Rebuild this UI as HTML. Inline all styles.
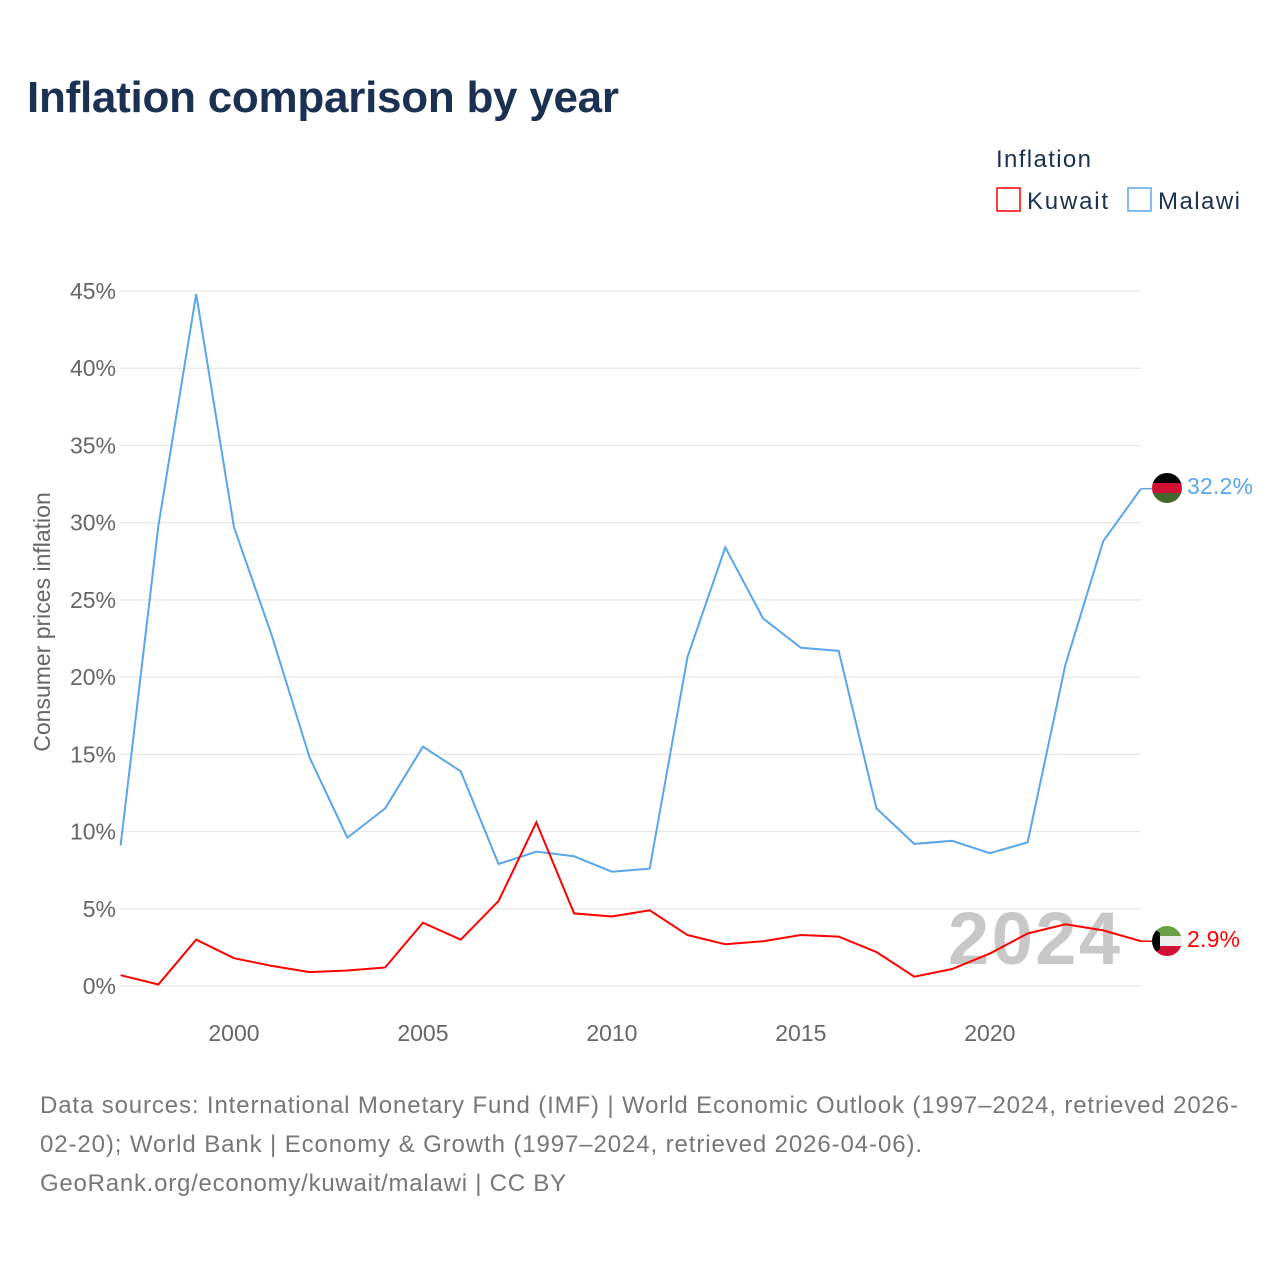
<!DOCTYPE html>
<html><head><meta charset="utf-8"><style>
body{margin:0;background:#fff;font-family:"Liberation Sans",sans-serif;}
svg text{font-family:"Liberation Sans",sans-serif;}
</style></head><body>
<svg width="1280" height="1280">
<text x="27" y="112" font-size="44" font-weight="bold" fill="#1a3152" textLength="592">Inflation comparison by year</text>
<text x="996" y="167" font-size="24" fill="#1a3152" textLength="95">Inflation</text>
<g><rect x="997" y="188" width="23" height="23" fill="none" stroke="#ff0000" stroke-width="1.5"/><text x="1027" y="209" font-size="24" fill="#1a3152" textLength="81">Kuwait</text></g>
<g><rect x="1128" y="188" width="23" height="23" fill="none" stroke="#5aa6ea" stroke-width="1.5"/><text x="1158" y="209" font-size="24" fill="#1a3152" textLength="82">Malawi</text></g>
<g id="grid"></g><g id="yt"></g><g id="xt"></g>
<text x="948" y="964" font-size="74" font-weight="bold" fill="#c8c8c8" textLength="172">2024</text>
<text transform="translate(50,622) rotate(-90)" font-size="23" fill="#666" text-anchor="middle">Consumer prices inflation</text>
<g id="lines"></g>
<g><clipPath id="c1"><circle cx="1167" cy="488" r="15"/></clipPath><g clip-path="url(#c1)"><rect x="1150" y="473" width="34" height="10" fill="#000"/><rect x="1150" y="483" width="34" height="10" fill="#d21034"/><rect x="1150" y="493" width="34" height="10" fill="#44692c"/></g></g>
<g><clipPath id="c2"><circle cx="1167" cy="941" r="15"/></clipPath><g clip-path="url(#c2)"><rect x="1150" y="926" width="34" height="10" fill="#6a9e45"/><rect x="1150" y="936" width="34" height="10" fill="#eee"/><rect x="1150" y="946" width="34" height="10" fill="#d21034"/><polygon points="1150,926 1160,933 1160,949 1150,956" fill="#000"/></g></g>
<text x="1187" y="494" font-size="23" fill="#5aa6ea" textLength="66">32.2%</text>
<text x="1187" y="947" font-size="23" fill="#ff0000" textLength="53">2.9%</text>
<g font-size="24" fill="#777">
<text x="40" y="1113" textLength="1198">Data sources: International Monetary Fund (IMF) | World Economic Outlook (1997–2024, retrieved 2026-</text>
<text x="40" y="1152" textLength="882">02-20); World Bank | Economy &amp; Growth (1997–2024, retrieved 2026-04-06).</text>
<text x="40" y="1191" textLength="526">GeoRank.org/economy/kuwait/malawi | CC BY</text>
</g>
</svg>
<script>
const years=[1997,1998,1999,2000,2001,2002,2003,2004,2005,2006,2007,2008,2009,2010,2011,2012,2013,2014,2015,2016,2017,2018,2019,2020,2021,2022,2023,2024];
const malawi=[9.1,29.8,44.8,29.7,22.7,14.8,9.6,11.5,15.5,13.9,7.9,8.7,8.4,7.4,7.6,21.3,28.4,23.8,21.9,21.7,11.5,9.2,9.4,8.6,9.3,20.8,28.8,32.2];
const kuwait=[0.7,0.1,3.0,1.8,1.3,0.9,1.0,1.2,4.1,3.0,5.5,10.6,4.7,4.5,4.9,3.3,2.7,2.9,3.3,3.2,2.2,0.6,1.1,2.1,3.4,4.0,3.6,2.9];
const yTicks=[0,5,10,15,20,25,30,35,40,45];
const xTicks=[2000,2005,2010,2015,2020];
const X=y=>120.6+(y-1997)*(1141-120.6)/27;
const Y=v=>986-v*(986-291)/45;
const NS="http://www.w3.org/2000/svg";
function mk(t,a,p){const e=document.createElementNS(NS,t);for(const k in a)e.setAttribute(k,a[k]);p.appendChild(e);return e;}
const g=document.getElementById('grid'),yt=document.getElementById('yt'),xt=document.getElementById('xt'),ln=document.getElementById('lines');
yTicks.forEach(v=>{
 const l=mk('line',{x1:120,x2:1141,y1:Y(v),y2:Y(v),stroke:'#e6e6e6','stroke-width':1.2},g);
 
 
 const t=mk('text',{x:116,y:Y(v)+8,'font-size':23,fill:'#666','text-anchor':'end'},yt);t.textContent=v+'%';
 
 
});
xTicks.forEach(v=>{
 const t=mk('text',{x:X(v),y:1041,'font-size':23,fill:'#666','text-anchor':'middle'},xt);t.textContent=v;
 
 
});
function line(d,c,n){
 const p=mk('polyline',{points:d.map((v,i)=>X(years[i])+','+Y(v)).join(' '),fill:'none',stroke:c,'stroke-width':2},ln);
 
 
 const last=d[d.length-1];
 mk('line',{x1:1141,x2:1152,y1:Y(last),y2:Y(last),stroke:c,'stroke-width':1.5},ln);
}
line(malawi,'#5aa6ea','malawi-line');
line(kuwait,'#ff0000','kuwait-line');
</script>
</body></html>
